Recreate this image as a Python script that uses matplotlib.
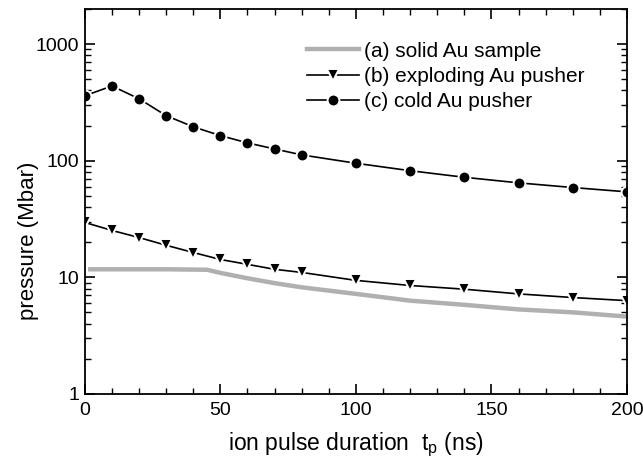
import numpy as np
import matplotlib.pyplot as plt
from matplotlib.ticker import MultipleLocator, LogLocator, NullFormatter

plt.rcParams['font.family'] = ['Liberation Sans', 'DejaVu Sans']

# (a) solid Au sample - grey curve
t_a = [2, 10, 20, 30, 45, 50, 60, 70, 80, 100, 120, 140, 160, 180, 200]
p_a = [11.7, 11.7, 11.7, 11.7, 11.6, 10.9, 9.8, 8.9, 8.2, 7.2, 6.3, 5.8, 5.3, 5.0, 4.6]

# (b) exploding Au pusher
t_b = [0, 10, 20, 30, 40, 50, 60, 70, 80, 100, 120, 140, 160, 180, 200]
p_b = [29.5, 25.2, 21.9, 18.8, 16.3, 14.2, 12.9, 11.7, 11.0, 9.4, 8.5, 7.9, 7.2, 6.7, 6.3]

# (c) cold Au pusher
t_c = [0, 10, 20, 30, 40, 50, 60, 70, 80, 100, 120, 140, 160, 180, 200]
p_c = [360, 437, 339, 243, 195, 164, 142, 126, 112, 95, 82, 72, 64.5, 58.8, 54]

fig = plt.figure(figsize=(6.43, 4.70), dpi=100)
ax = fig.add_axes([0.132, 0.162, 0.843, 0.819])

ax.plot(t_a, p_a, color='#b0b0b0', lw=3.2, label='(a) solid Au sample')
ax.plot(t_b, p_b, 'k-', lw=1.2, marker='v', ms=9, mec='white', mew=1.4,
        label='(b) exploding Au pusher')
ax.plot(t_c, p_c, 'k-', lw=1.2, marker='o', ms=8.5, mec='white', mew=1.4,
        label='(c) cold Au pusher')

ax.set_yscale('log')
ax.set_xlim(0, 200)
ax.set_ylim(1, 2000)
ax.set_yticks([1, 10, 100, 1000])
ax.set_yticklabels(['1', '10', '100', '1000'])
ax.yaxis.set_minor_locator(LogLocator(base=10, subs=np.arange(2, 10)))
ax.yaxis.set_minor_formatter(NullFormatter())
ax.xaxis.set_major_locator(MultipleLocator(50))
ax.xaxis.set_minor_locator(MultipleLocator(10))

ax.tick_params(which='both', direction='in', top=True, right=True, labelsize=14)
ax.tick_params(which='major', length=7, width=1.2)
ax.tick_params(axis='x', which='major', pad=6)
ax.tick_params(axis='y', which='major', pad=4)
ax.tick_params(which='minor', length=4, width=1)
for s in ax.spines.values():
    s.set_linewidth(1.3)

ax.set_xlabel(r'ion pulse duration  t$_\mathregular{p}$ (ns)', fontsize=16.5, labelpad=8)
ax.set_ylabel('pressure (Mbar)', fontsize=16)
ax.yaxis.set_label_coords(-0.085, 0.397)

ax.legend(loc='upper left', bbox_to_anchor=(0.41, 0.915), frameon=False,
          fontsize=15, handlelength=2.5, handletextpad=0.25, labelspacing=0.3,
          borderpad=0, borderaxespad=0)

fig.savefig('out.png', dpi=100)
